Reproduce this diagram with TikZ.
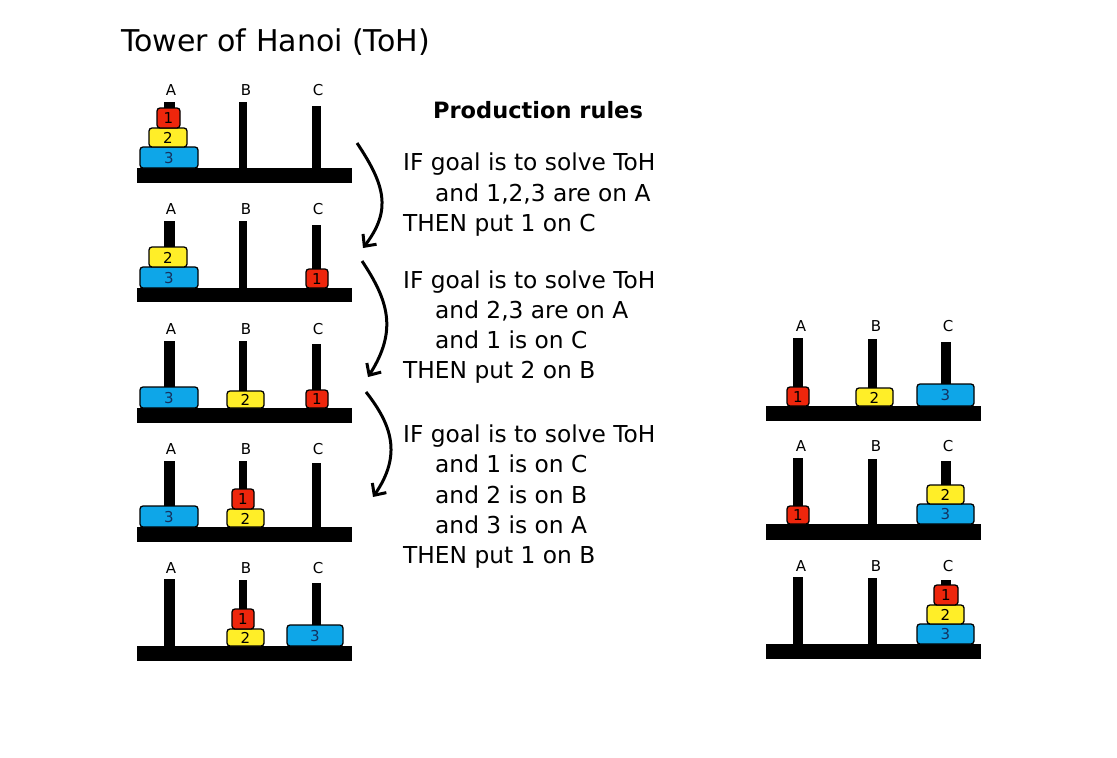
\documentclass[tikz,border=0pt]{standalone}
\usepackage{fontspec}
\setmainfont{DejaVu Sans}
\usetikzlibrary{arrows.meta}
\definecolor{dred}{RGB}{238,38,12}
\definecolor{dyel}{RGB}{255,238,40}
\definecolor{dblue}{RGB}{14,166,232}
\definecolor{numblue}{RGB}{20,50,95}
\tikzset{
  discbox/.style={draw=black, line width=1.3pt, rounded corners=3pt},
  disclabel/.style={inner sep=0pt, font=\fontsize{15}{15}\selectfont},
  peglabel/.style={inner sep=0pt, anchor=base, font=\fontsize{15}{15}\selectfont},
  ruletext/.style={inner sep=0pt, anchor=base west, font=\fontsize{23.3}{23.3}\selectfont},
  bendarrow/.style={line width=3pt, -{Straight Barb[length=9pt,width=17pt,line width=3pt]}},
}
% peg: cx, top, bottom, width
\newcommand\hpeg[4]{\fill[black] ({#1-#4/2},#2) rectangle ({#1+#4/2},#3);}
% disc: cx, top, bottom, width, colour, number, number colour
\newcommand\hdisc[7]{%
  \draw[discbox, fill=#5] ({#1-#4/2},#2) rectangle ({#1+#4/2},#3);
  \node[disclabel, text=#7] at ({#1},{(#2+#3)/2+0.5}) {#6};}
% left tower frame: base top, base bottom, label baseline, pegtopA, pegtopB, pegtopC
\newcommand\lframe[6]{%
  \fill[black] (137,#1) rectangle (352,#2);
  \hpeg{169}{#4}{#1}{11}\hpeg{243}{#5}{#1}{8}\hpeg{316.5}{#6}{#1}{9}
  \node[peglabel] at (171,#3) {A};
  \node[peglabel] at (246,#3) {B};
  \node[peglabel] at (318,#3) {C};}
\newcommand\rframe[6]{%
  \fill[black] (766,#1) rectangle (981,#2);
  \hpeg{798}{#4}{#1}{10}\hpeg{872.5}{#5}{#1}{9}\hpeg{946}{#6}{#1}{10}
  \node[peglabel] at (801,#3) {A};
  \node[peglabel] at (876,#3) {B};
  \node[peglabel] at (948,#3) {C};}
\begin{document}
\begin{tikzpicture}[x=1pt,y=-1pt]
\useasboundingbox[fill=white] (0,0) rectangle (1117,758);

% title
\node[inner sep=0pt, anchor=base west, font=\fontsize{30}{30}\selectfont] (title) at (121,51) {Tower of Hanoi (ToH)};

% ---------- left column ----------
% row 1
\lframe{168}{183}{95}{102}{102}{106}
\hdisc{169}{147}{168}{58}{dblue}{3}{numblue}
\hdisc{168}{128}{147}{38}{dyel}{2}{black}
\hdisc{168.5}{108}{128}{23}{dred}{1}{black}
% row 2
\lframe{288}{302}{214}{221}{221}{225}
\hdisc{169}{267}{288}{58}{dblue}{3}{numblue}
\hdisc{168}{247}{267}{38}{dyel}{2}{black}
\hdisc{317}{269}{288}{22}{dred}{1}{black}
% row 3
\lframe{408}{423}{334}{341}{341}{344}
\hdisc{169}{387}{408}{58}{dblue}{3}{numblue}
\hdisc{245.5}{391}{408}{37}{dyel}{2}{black}
\hdisc{317}{390}{408}{22}{dred}{1}{black}
% row 4
\lframe{527}{542}{454}{461}{461}{463}
\hdisc{169}{506}{527}{58}{dblue}{3}{numblue}
\hdisc{245.5}{509}{527}{37}{dyel}{2}{black}
\hdisc{243}{489}{509}{22}{dred}{1}{black}
% row 5
\lframe{646}{661}{573}{579}{580}{583}
\hdisc{245.5}{629}{646}{37}{dyel}{2}{black}
\hdisc{243}{609}{629}{22}{dred}{1}{black}
\hdisc{315}{625}{646}{56}{dblue}{3}{numblue}

% ---------- right column ----------
\rframe{406}{421}{331}{338}{339}{342}
\hdisc{798}{387}{406}{22}{dred}{1}{black}
\hdisc{874.5}{388}{406}{37}{dyel}{2}{black}
\hdisc{945.5}{384}{406}{57}{dblue}{3}{numblue}

\rframe{524}{540}{451}{458}{459}{461}
\hdisc{798}{506}{524}{22}{dred}{1}{black}
\hdisc{945.5}{504}{524}{57}{dblue}{3}{numblue}
\hdisc{945.5}{485}{504}{37}{dyel}{2}{black}

\rframe{644}{659}{571}{577}{578}{580}
\hdisc{945.5}{624}{644}{57}{dblue}{3}{numblue}
\hdisc{945.5}{605}{624}{37}{dyel}{2}{black}
\hdisc{946}{585}{605}{24}{dred}{1}{black}

% ---------- production rules ----------
\node[inner sep=0pt, anchor=base, font=\bfseries\fontsize{22.5}{22.5}\selectfont] (prh) at (538,118) {Production rules};

\node[ruletext] (r1a) at (403,170) {IF goal is to solve ToH};
\node[ruletext] (r1b) at (435,201) {and 1,2,3 are on A};
\node[ruletext] (r1c) at (403,231) {THEN put 1 on C};

\node[ruletext] (r2a) at (403,288) {IF goal is to solve ToH};
\node[ruletext] (r2b) at (435,318) {and 2,3 are on A};
\node[ruletext] (r2c) at (435,348) {and 1 is on C};
\node[ruletext] (r2d) at (403,378) {THEN put 2 on B};

\node[ruletext] (r3a) at (403,442) {IF goal is to solve ToH};
\node[ruletext] (r3b) at (435,472) {and 1 is on C};
\node[ruletext] (r3c) at (435,503) {and 2 is on B};
\node[ruletext] (r3d) at (435,533) {and 3 is on A};
\node[ruletext] (r3e) at (403,563) {THEN put 1 on B};

% ---------- arrows ----------
\coordinate (a1s) at (357,143); \coordinate (a1e) at (363,248);
\coordinate (a2s) at (362,261); \coordinate (a2e) at (368,377);
\coordinate (a3s) at (366,392); \coordinate (a3e) at (373,497);
\draw[bendarrow] (a1s) .. controls (385,185) and (392,210) .. (a1e);
\draw[bendarrow] (a2s) .. controls (388,300) and (398,330) .. (a2e);
\draw[bendarrow] (a3s) .. controls (392,425) and (402,455) .. (a3e);
\end{tikzpicture}
\end{document}
